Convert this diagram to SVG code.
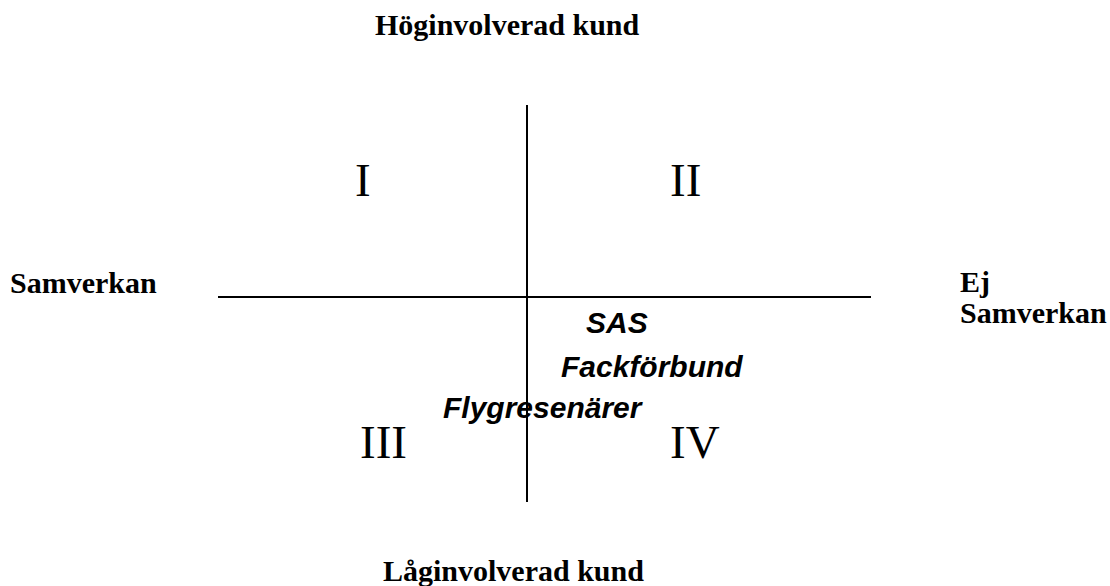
<svg xmlns="http://www.w3.org/2000/svg" width="1110" height="586" viewBox="0 0 1110 586">
<style>
.axis{font-family:"Liberation Serif","Times New Roman",serif;font-weight:bold;font-size:30px;fill:#000}
.num{font-family:"Liberation Serif","Times New Roman",serif;font-size:47px;fill:#000}
.item{font-family:"Liberation Sans",Arial,sans-serif;font-weight:bold;font-style:italic;font-size:30px;fill:#000}
.ln{stroke:#000;stroke-width:2;fill:none}
</style>
<rect width="1110" height="586" fill="#fff"/>
<g id="connectors">
<line class="ln" x1="218" y1="297" x2="871" y2="297"/>
<line class="ln" x1="527" y1="105" x2="527" y2="502"/>
</g>
<g id="top-label"><text class="axis" x="375" y="35">Höginvolverad kund</text></g>
<g id="bottom-label"><text class="axis" x="383" y="581">Låginvolverad kund</text></g>
<g id="left-label"><text class="axis" x="10" y="293">Samverkan</text></g>
<g id="right-label"><text class="axis" x="960" y="292">Ej</text><text class="axis" x="960" y="323">Samverkan</text></g>
<g id="q1"><text class="num" x="355" y="196">I</text></g>
<g id="q2"><text class="num" x="670" y="196">II</text></g>
<g id="q3"><text class="num" x="360" y="458">III</text></g>
<g id="q4"><text class="num" x="670" y="458">IV</text></g>
<g id="sas"><text class="item" x="586" y="333">SAS</text></g>
<g id="fack"><text class="item" x="561" y="377">Fackförbund</text></g>
<g id="flyg"><text class="item" x="443" y="418">Flygresenärer</text></g>
</svg>
